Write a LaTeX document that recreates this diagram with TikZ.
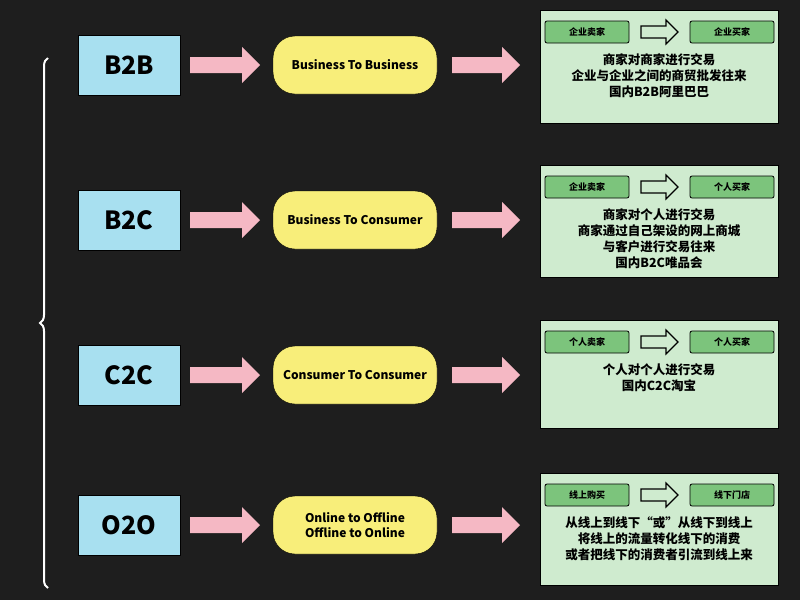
\documentclass[tikz,border=0pt]{standalone}
\usepackage{fontspec}
\setmainfont{Noto Sans CJK SC}
\usetikzlibrary{decorations.pathreplacing,calc}
\definecolor{bg}{HTML}{1E1E1E}
\definecolor{blu}{HTML}{A8E0F0}
\definecolor{yel}{HTML}{F8EE7A}
\definecolor{pnk}{HTML}{F5B8C4}
\definecolor{pan}{HTML}{CFEBCF}
\definecolor{gbx}{HTML}{7CC47C}
\newcommand\blockarr[5]{%
 \path[#5] ($#1+(0,-#3)$) -- ++(#2-#4,0) -- ++(0,#3-#4) -- ++(#4,#4) -- ++(-#4,#4) -- ++(0,#3-#4) -- ++(-#2+#4,0) -- cycle;}
\begin{document}
\begin{tikzpicture}[x=1pt,y=-1pt,
 code/.style={draw=black,fill=blu,minimum width=102pt,minimum height=60pt,font=\fontsize{25}{27}\selectfont\bfseries},
 pill/.style={draw=black,fill=yel,rounded corners=22pt,minimum width=164pt,minimum height=58pt,align=center,font=\fontsize{12}{15}\selectfont\bfseries},
 panel/.style={draw=black,fill=pan,minimum width=238pt,anchor=north west},
 gb/.style={draw=black,line width=0.8pt,fill=gbx,rounded corners=2pt,minimum width=84pt,minimum height=22pt,font=\fontsize{9}{10}\selectfont\bfseries},
 ptxt/.style={align=center,font=\fontsize{12.5}{16}\selectfont\bfseries}]
\fill[bg] (0,0) rectangle (800,600);
\useasboundingbox (0,0) rectangle (800,600);
\draw[white,line width=2pt,decorate,decoration={brace,amplitude=8pt}] (48,588) -- (48,58);
\foreach \n/\y/\code/\pt/\ptop/\ph/\l/\r/\txt in {
 a/65/B2B/Business To Business/10/113/企业卖家/企业买家/{商家对商家进行交易\\企业与企业之间的商贸批发往来\\国内B2B阿里巴巴},
 b/220/B2C/Business To Consumer/165/112/企业卖家/个人买家/{商家对个人进行交易\\商家通过自己架设的网上商城\\与客户进行交易往来\\国内B2C唯品会},
 c/375/C2C/Consumer To Consumer/320/108/个人卖家/个人买家/{个人对个人进行交易\\国内C2C淘宝},
 d/525/O2O/{Online to Offline\\Offline to Online}/473/112/线上购买/线下门店/{从线上到线下“或”从线下到线上\\将线上的流量转化线下的消费\\或者把线下的消费者引流到线上来}}{
 \node[code] (\n c) at (129,\y) {\code};
 \node[pill] (\n p) at (355,\y) {\pt};
 \node[panel,minimum height=\ph pt] (\n q) at (540,\ptop) {};
 \node[gb] (\n l) at (587,\ptop+22) {\l};
 \node[gb] (\n r) at (732,\ptop+22) {\r};
 \node[ptxt,anchor=north] (\n t) at (659,\ptop+40) {\txt};
 \blockarr{(190,\y)}{70}{8}{18}{fill=pnk}
 \blockarr{(452,\y)}{68}{8}{18}{fill=pnk}
 \blockarr{(641,\ptop+22)}{37}{6}{12}{draw=black,line width=1.2pt,fill=pan}
}
\end{tikzpicture}
\end{document}
